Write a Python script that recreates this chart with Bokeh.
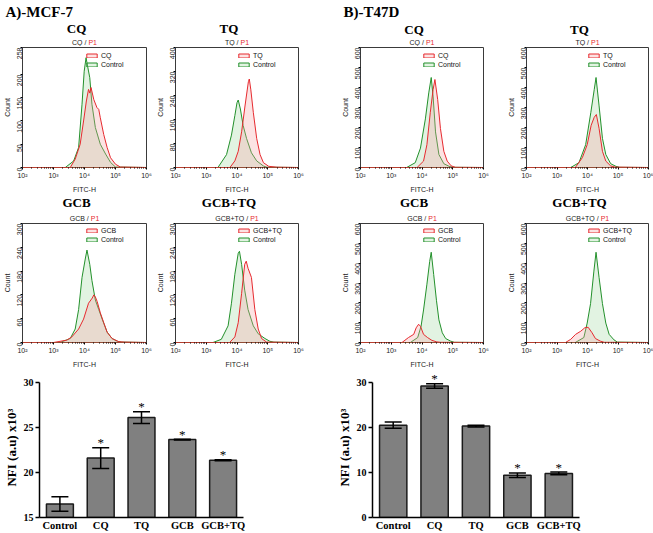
import math
from bokeh.plotting import figure
from bokeh.layouts import row, column
from bokeh.models import (FixedTicker, Legend, LegendItem, ColumnDataSource,
                          Range1d, FactorRange, Whisker, TeeHead)
from bokeh.core.properties import value
from bokeh.embed import file_html
from bokeh.resources import INLINE

SANS = "Liberation Sans"
SERIF = "Liberation Serif"
RED = "#e62a2f"
GREEN = "#23902b"

# ---------------- histogram data (log10 FITC-H, count) ----------------
mcf_cq_ctrl_log = [2.0, 3.38, 3.65, 3.81, 3.92, 3.99, 4.05, 4.08, 4.17, 4.24, 4.35, 4.51, 4.68, 4.84, 5.0, 6.0]
mcf_cq_ctrl_cnt = [0, 0, 14, 43, 136, 207, 236, 225, 193, 136, 86, 50, 29, 11, 1, 0]
mcf_cq_trt_log = [2.0, 3.54, 3.70, 3.86, 3.97, 4.06, 4.13, 4.17, 4.21, 4.30, 4.40, 4.46, 4.51, 4.62, 4.73, 4.84, 5.0, 5.16, 6.0]
mcf_cq_trt_cnt = [0, 0, 18, 50, 100, 143, 168, 160, 172, 146, 129, 125, 107, 71, 43, 21, 7, 1, 0]

mcf_tq_ctrl_log = [2.0, 3.38, 3.66, 3.82, 3.93, 4.0, 4.04, 4.11, 4.2, 4.31, 4.47, 4.64, 4.86, 4.97, 6.0]
mcf_tq_ctrl_cnt = [0, 0, 43, 108, 173, 216, 225, 195, 140, 97, 49, 22, 5, 1, 0]
mcf_tq_trt_log = [2.0, 3.77, 3.93, 4.04, 4.15, 4.26, 4.37, 4.40, 4.45, 4.53, 4.64, 4.75, 4.86, 5.03, 5.3, 6.0]
mcf_tq_trt_cnt = [0, 0, 22, 54, 119, 205, 286, 295, 259, 184, 97, 43, 16, 4, 1, 0]

t47_cq_ctrl_log = [2.0, 3.5, 3.78, 3.95, 4.11, 4.22, 4.30, 4.36, 4.44, 4.55, 4.71, 4.88, 5.0, 6.0]
t47_cq_ctrl_cnt = [0, 0, 24, 97, 243, 373, 450, 357, 178, 65, 19, 6, 1, 0]
t47_cq_trt_log = [2.0, 3.84, 4.05, 4.16, 4.27, 4.36, 4.42, 4.51, 4.60, 4.71, 4.82, 4.95, 5.09, 6.0]
t47_cq_trt_cnt = [0, 0, 32, 114, 276, 389, 440, 340, 195, 81, 32, 8, 1, 0]

t47_tq_ctrl_log = [2.0, 3.45, 3.72, 3.94, 4.11, 4.22, 4.28, 4.38, 4.49, 4.60, 4.76, 4.93, 5.05, 6.0]
t47_tq_ctrl_cnt = [0, 0, 24, 114, 276, 389, 450, 308, 146, 65, 19, 6, 1, 0]
t47_tq_trt_log = [2.0, 3.6, 3.83, 3.99, 4.12, 4.22, 4.29, 4.38, 4.49, 4.60, 4.76, 4.9, 6.0]
t47_tq_trt_cnt = [0, 0, 49, 114, 211, 251, 265, 195, 81, 32, 8, 2, 0]

mcf_gcb_ctrl_log = [2.0, 3.21, 3.54, 3.70, 3.81, 3.92, 4.03, 4.08, 4.17, 4.24, 4.35, 4.46, 4.57, 4.73, 4.89, 5.06, 5.2, 6.0]
mcf_gcb_ctrl_cnt = [0, 0, 10, 34, 83, 164, 213, 233, 197, 156, 107, 83, 59, 26, 10, 3, 1, 0]
mcf_gcb_trt_log = [2.0, 3.0, 3.43, 3.59, 3.81, 3.97, 4.13, 4.25, 4.30, 4.35, 4.41, 4.51, 4.62, 4.73, 4.89, 5.11, 5.3, 6.0]
mcf_gcb_trt_cnt = [0, 0, 6, 14, 34, 59, 99, 112, 120, 115, 103, 75, 50, 26, 10, 2, 1, 0]

mcf_gt_ctrl_log = [2.0, 3.22, 3.49, 3.71, 3.82, 3.93, 4.04, 4.08, 4.15, 4.25, 4.36, 4.53, 4.69, 4.91, 5.07, 5.2, 6.0]
mcf_gt_ctrl_cnt = [0, 0, 8, 42, 99, 172, 225, 230, 197, 132, 83, 42, 22, 10, 3, 1, 0]
mcf_gt_trt_log = [2.0, 3.76, 3.93, 4.04, 4.15, 4.25, 4.30, 4.36, 4.47, 4.58, 4.69, 4.80, 4.96, 6.0]
mcf_gt_trt_cnt = [0, 0, 14, 50, 124, 197, 205, 187, 164, 83, 34, 10, 1, 0]

t47_gcb_ctrl_log = [2.0, 3.62, 3.86, 3.97, 4.05, 4.16, 4.25, 4.30, 4.38, 4.47, 4.55, 4.66, 4.77, 4.93, 5.05, 6.0]
t47_gcb_ctrl_cnt = [0, 0, 25, 82, 164, 294, 409, 455, 343, 213, 114, 49, 20, 7, 1, 0]
t47_gcb_trt_log = [2.0, 3.35, 3.56, 3.73, 3.81, 3.89, 3.95, 4.05, 4.18, 4.32, 4.48, 4.6, 6.0]
t47_gcb_trt_cnt = [0, 0, 25, 41, 74, 92, 82, 41, 25, 11, 3, 1, 0]

t47_gt_ctrl_log = [2.0, 3.6, 3.88, 3.99, 4.10, 4.21, 4.28, 4.38, 4.49, 4.60, 4.71, 4.87, 4.98, 6.0]
t47_gt_ctrl_cnt = [0, 0, 25, 98, 196, 360, 455, 327, 196, 98, 41, 13, 2, 0]
t47_gt_trt_log = [2.0, 3.28, 3.45, 3.61, 3.78, 3.91, 4.02, 4.15, 4.26, 4.42, 4.55, 6.0]
t47_gt_trt_cnt = [0, 0, 16, 41, 57, 74, 77, 49, 20, 7, 1, 0]

decade_ticks = [100, 1000, 10000, 100000, 1000000]
decade_labels = ["10²", "10³", "10⁴", "10⁵", "10⁶"]

ticks_258 = [0, 50, 100, 150, 200, 258]
ticks_400 = [0, 80, 160, 240, 320, 400]
ticks_300 = [0, 60, 120, 180, 240, 300]
ticks_600 = [0, 100, 200, 300, 400, 500, 600]

# ---------------- bar chart data ----------------
categories = ["Control", "CQ", "TQ", "GCB", "GCB+TQ"]
mcf_nfi = [16.5, 21.6, 26.1, 23.65, 21.35]
mcf_err = [0.8, 1.15, 0.65, 0.05, 0.05]
mcf_star = [False, True, True, True, True]
t47_nfi = [20.5, 29.2, 20.3, 9.4, 9.8]
t47_err = [0.7, 0.5, 0.2, 0.5, 0.3]
t47_star = [False, True, False, True, True]

# ---------------- geometry (pixels) ----------------
L_W, L_BL, L_BR = [152, 178], [22, 23], [6, 32]
R_W, R_BL, R_BR = [168, 155], [30, 28], [15, 5]
STRIP1_H, STRIP2_H = 46, 27
HIST1_H, HIST2_H = 149, 148
BAR_H = 163

CHAR_W = {'C': 5.05, 'Q': 5.45, 'T': 4.28, 'G': 5.45, 'B': 4.67, '+': 4.09,
          ' ': 1.94, '/': 1.94, 'P': 4.67, '1': 3.89}


def tw(s):
    return sum(CHAR_W.get(c, 4.0) for c in s)


def hist(name, c_log, c_cnt, t_log, t_cnt, yticks, width, height, bl, br, bb):
    ymax = yticks[-1]
    fw = width - bl - br
    fh = height - 1 - bb
    p = figure(width=width, height=height, x_axis_type="log", title=None,
               x_range=Range1d(100, 1000000), y_range=Range1d(0, ymax),
               min_border_left=bl, min_border_right=br, min_border_top=1,
               min_border_bottom=bb, output_backend="svg", toolbar_location=None)
    p.xgrid.visible = False
    p.ygrid.visible = False
    p.outline_line_color = "#3a3a3a"
    p.outline_line_width = 1

    r_c = p.patch([10 ** v for v in c_log], c_cnt, fill_color="#9fd89f", fill_alpha=0.3,
                  line_color=GREEN, line_width=1)
    r_t = p.patch([10 ** v for v in t_log], t_cnt, fill_color="#f5a3a3", fill_alpha=0.3,
                  line_color=RED, line_width=1)

    xa = p.xaxis[0]
    xa.ticker = FixedTicker(ticks=decade_ticks,
                            minor_ticks=[m * 10 ** e for e in range(2, 6) for m in range(2, 10)])
    xa.major_label_overrides = dict(zip(decade_ticks, decade_labels))
    xa.axis_line_color = None
    xa.major_tick_in = 0
    xa.major_tick_out = 2
    xa.minor_tick_in = 0
    xa.minor_tick_out = 1
    xa.major_label_text_font = SANS
    xa.major_label_text_font_size = "7px"
    xa.major_label_text_color = "#222222"
    xa.major_label_standoff = 2
    xa.axis_label = "FITC-H"
    xa.axis_label_text_font = SANS
    xa.axis_label_text_font_style = "normal"
    xa.axis_label_text_font_size = "7px"
    xa.axis_label_text_color = "#222222"
    xa.axis_label_standoff = 4

    ya = p.yaxis[0]
    ya.ticker = FixedTicker(ticks=yticks, minor_ticks=[])
    ya.axis_line_color = None
    ya.major_tick_in = 0
    ya.major_tick_out = 2
    ya.major_label_orientation = math.pi / 2
    ya.major_label_text_font = SANS
    ya.major_label_text_font_size = "7px"
    ya.major_label_text_color = "#222222"
    ya.major_label_standoff = 1
    ya.axis_label = "Count"
    ya.axis_label_text_font = SANS
    ya.axis_label_text_font_style = "normal"
    ya.axis_label_text_font_size = "7px"
    ya.axis_label_text_color = "#222222"
    ya.axis_label_standoff = 1

    lw = max(tw(name), tw("Control")) + 1
    legend = Legend(items=[LegendItem(label=name, renderers=[r_t]),
                           LegendItem(label="Control", renderers=[r_c])],
                    location=(fw - 15 - 16 - lw, fh - 25))
    legend.padding = 0
    legend.margin = 0
    legend.spacing = 0
    legend.glyph_width = 13
    legend.glyph_height = 5
    legend.label_height = 9
    legend.label_standoff = 3
    legend.label_text_font = SANS
    legend.label_text_font_size = "7px"
    legend.label_text_color = "#111111"
    legend.border_line_color = None
    legend.background_fill_alpha = 0
    p.add_layout(legend)
    return p


def strip(width, height, widths, bls, brs, names, title_y, sub_y, header=None, header_x=0):
    p = figure(width=width, height=height, x_range=Range1d(0, width), y_range=Range1d(height, 0),
               x_axis_location=None, y_axis_location=None, min_border=0, title=None,
               output_backend="svg", toolbar_location=None)
    p.xgrid.visible = False
    p.ygrid.visible = False
    p.outline_line_color = None
    x0 = 0
    for w, bl, br, name in zip(widths, bls, brs, names):
        cx = x0 + bl + (w - bl - br) / 2.0
        p.text(x=[cx - 8], y=[title_y], text=[name], text_font=value(SERIF),
               text_font_style="bold", text_font_size="13px", text_color="black",
               text_align="center", text_baseline="middle")
        full = tw(name + " / P1")
        left = cx - full / 2.0
        p.text(x=[left], y=[sub_y], text=[name + " /"], text_font=value(SANS),
               text_font_size="7px", text_color="#222222",
               text_align="left", text_baseline="middle")
        p.text(x=[left + tw(name + " / ")], y=[sub_y], text=["P1"], text_font=value(SANS),
               text_font_size="7px", text_color=RED,
               text_align="left", text_baseline="middle")
        x0 += w
    if header:
        p.text(x=[header_x], y=[11], text=[header], text_font=value(SERIF),
               text_font_style="bold", text_font_size="15px", text_color="black",
               text_align="left", text_baseline="middle")
    return p


def bars(means, errs, stars, ylo, ytop, yticks, width, bl, br):
    p = figure(width=width, height=BAR_H, x_range=FactorRange(*categories, range_padding=0),
               y_range=Range1d(ylo, ytop), min_border_left=bl, min_border_right=br,
               min_border_top=4, min_border_bottom=15, output_backend="svg",
               toolbar_location=None, title=None)
    p.xgrid.visible = False
    p.ygrid.visible = False
    p.outline_line_color = None
    src = ColumnDataSource(dict(x=categories, top=means,
                                upper=[m + e for m, e in zip(means, errs)],
                                lower=[m - e for m, e in zip(means, errs)]))
    p.vbar(x="x", top="top", bottom=ylo, width=0.66, source=src,
           fill_color="#808080", line_color="#1a1a1a", line_width=1.5)
    p.add_layout(Whisker(source=src, base="x", upper="upper", lower="lower",
                         line_color="black", line_width=1.5, level="overlay",
                         upper_head=TeeHead(size=17, line_width=1.5, line_color="black"),
                         lower_head=TeeHead(size=17, line_width=1.5, line_color="black")))
    sx = [c for c, s in zip(categories, stars) if s]
    sy = [m + e for m, e, s in zip(means, errs, stars) if s]
    p.text(x=sx, y=sy, text=["*"] * len(sx), text_font=value(SERIF),
           text_font_size="13px", text_color="black", y_offset=-5,
           text_align="center", text_baseline="middle")
    ya = p.yaxis[0]
    ya.ticker = FixedTicker(ticks=yticks, minor_ticks=[])
    ya.bounds = (ylo, yticks[-1])
    ya.axis_line_width = 1.5
    ya.major_tick_line_width = 1.5
    ya.major_tick_in = 0
    ya.major_tick_out = 4
    ya.major_label_text_font = SERIF
    ya.major_label_text_font_style = "bold"
    ya.major_label_text_font_size = "10px"
    ya.major_label_text_color = "black"
    ya.major_label_standoff = 2
    ya.axis_label = "NFI  (a.u) x10³"
    ya.axis_label_text_font = SERIF
    ya.axis_label_text_font_style = "bold"
    ya.axis_label_text_font_size = "13px"
    ya.axis_label_text_color = "black"
    ya.axis_label_standoff = 2
    xa = p.xaxis[0]
    xa.axis_line_width = 1.5
    xa.major_tick_line_color = None
    xa.major_tick_in = 0
    xa.major_tick_out = 0
    xa.minor_tick_line_color = None
    xa.minor_tick_in = 0
    xa.minor_tick_out = 0
    xa.major_label_text_font = SERIF
    xa.major_label_text_font_style = "bold"
    xa.major_label_text_font_size = "10.5px"
    xa.major_label_text_color = "black"
    xa.major_label_standoff = 2
    return p


s1L = strip(sum(L_W), STRIP1_H, L_W, L_BL, L_BR, ["CQ", "TQ"], 28, 42, header="A)-MCF-7", header_x=5)
s1R = strip(sum(R_W), STRIP1_H, R_W, R_BL, R_BR, ["CQ", "TQ"], 29, 42, header="B)-T47D", header_x=13)
s2L = strip(sum(L_W), STRIP2_H, L_W, L_BL, L_BR, ["GCB", "GCB+TQ"], 7, 23)
s2R = strip(sum(R_W), STRIP2_H, R_W, R_BL, R_BR, ["GCB", "GCB+TQ"], 7, 23)

f1 = hist("CQ", mcf_cq_ctrl_log, mcf_cq_ctrl_cnt, mcf_cq_trt_log, mcf_cq_trt_cnt, ticks_258,
          L_W[0], HIST1_H, L_BL[0], L_BR[0], 25)
f2 = hist("TQ", mcf_tq_ctrl_log, mcf_tq_ctrl_cnt, mcf_tq_trt_log, mcf_tq_trt_cnt, ticks_400,
          L_W[1], HIST1_H, L_BL[1], L_BR[1], 25)
f3 = hist("CQ", t47_cq_ctrl_log, t47_cq_ctrl_cnt, t47_cq_trt_log, t47_cq_trt_cnt, ticks_600,
          R_W[0], HIST1_H, R_BL[0], R_BR[0], 25)
f4 = hist("TQ", t47_tq_ctrl_log, t47_tq_ctrl_cnt, t47_tq_trt_log, t47_tq_trt_cnt, ticks_600,
          R_W[1], HIST1_H, R_BL[1], R_BR[1], 25)
f5 = hist("GCB", mcf_gcb_ctrl_log, mcf_gcb_ctrl_cnt, mcf_gcb_trt_log, mcf_gcb_trt_cnt, ticks_300,
          L_W[0], HIST2_H, L_BL[0], L_BR[0], 24)
f6 = hist("GCB+TQ", mcf_gt_ctrl_log, mcf_gt_ctrl_cnt, mcf_gt_trt_log, mcf_gt_trt_cnt, ticks_300,
          L_W[1], HIST2_H, L_BL[1], L_BR[1], 24)
f7 = hist("GCB", t47_gcb_ctrl_log, t47_gcb_ctrl_cnt, t47_gcb_trt_log, t47_gcb_trt_cnt, ticks_600,
          R_W[0], HIST2_H, R_BL[0], R_BR[0], 24)
f8 = hist("GCB+TQ", t47_gt_ctrl_log, t47_gt_ctrl_cnt, t47_gt_trt_log, t47_gt_trt_cnt, ticks_600,
          R_W[1], HIST2_H, R_BL[1], R_BR[1], 24)

bA = bars(mcf_nfi, mcf_err, mcf_star, 15, 30.88, [15, 20, 25, 30], sum(L_W), 38, 87)
bB = bars(t47_nfi, t47_err, t47_star, 0, 31.76, [0, 10, 20, 30], sum(R_W), 42, 74)

left = column(row(s1L), row(f1, f2), row(s2L), row(f5, f6), row(bA))
right = column(row(s1R), row(f3, f4), row(s2R), row(f7, f8), row(bB))
layout = row(left, right)

open("out.html", "w").write(file_html(layout, INLINE))
